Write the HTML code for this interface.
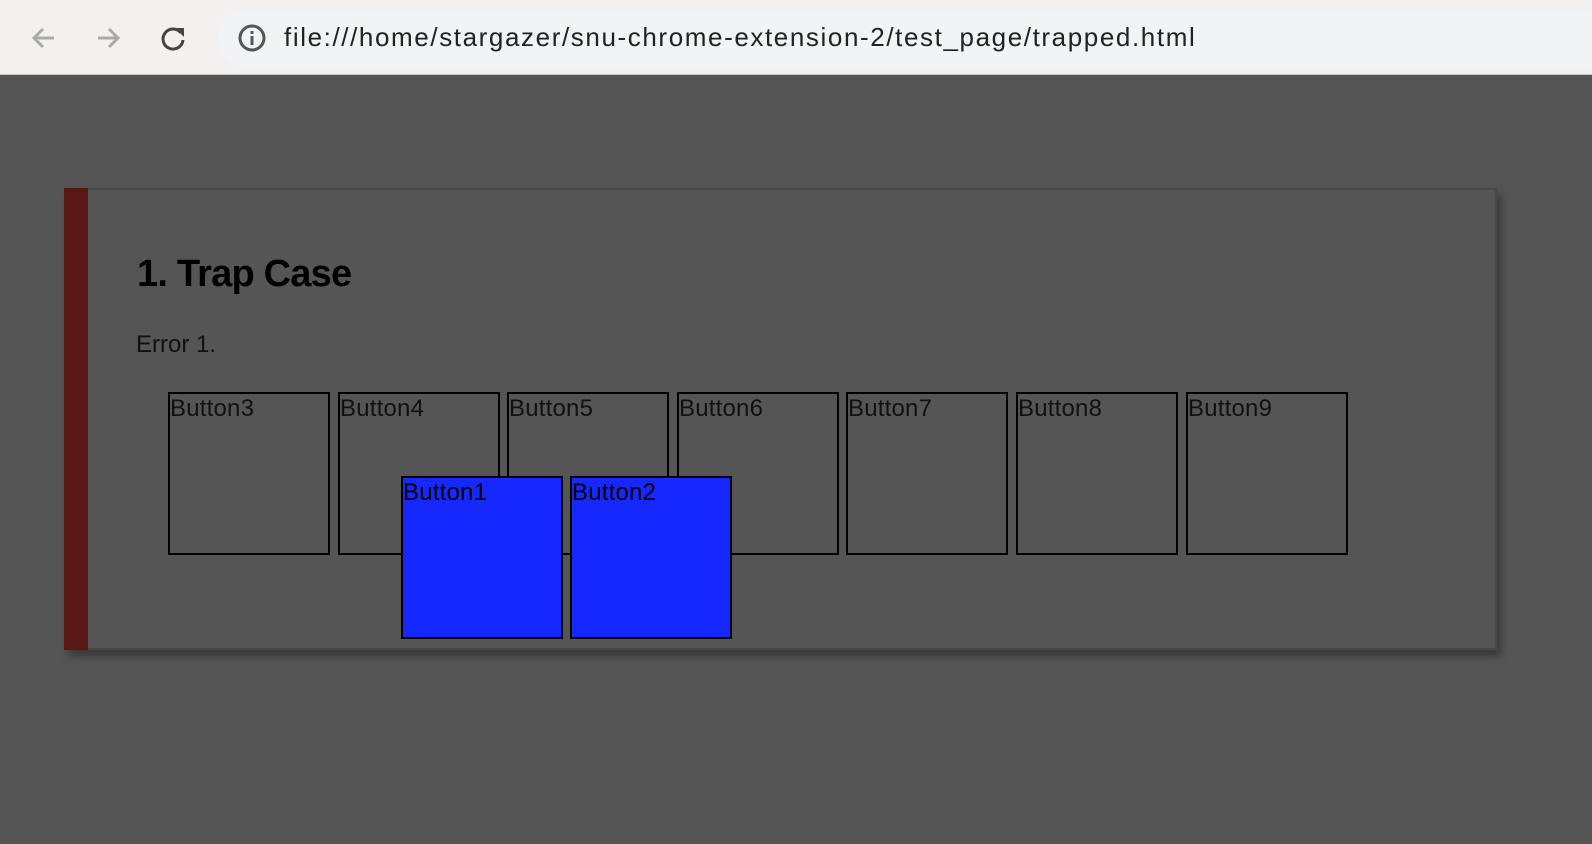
<!DOCTYPE html>
<html><head><meta charset="utf-8"><style>
body{margin:0;width:1592px;height:844px;background:#555;overflow:hidden;font-family:"Liberation Sans",sans-serif;position:relative}
.bar{position:absolute;left:0;top:0;width:1592px;height:75px;background:#f2f1f0;border-bottom:1px solid #c8c8c8;box-sizing:border-box}
.pill{position:absolute;left:218px;top:10px;width:1400px;height:56px;border-radius:28px;background:#f1f3f4}
.url{position:absolute;left:284px;top:22px;font-size:26px;letter-spacing:1.6px;color:#222;white-space:nowrap}
.card{position:absolute;left:64px;top:188px;width:1433px;height:462px;box-sizing:border-box;border:2px solid #484848;background:#555;box-shadow:4px 6px 8px rgba(0,0,0,.35)}
.red{position:absolute;left:64px;top:188px;width:24px;height:462px;background:#561715}
h1{position:absolute;left:137px;top:253px;margin:0;font-size:38px;letter-spacing:-0.8px;font-weight:bold;color:#000}
.err{position:absolute;left:136px;top:331px;font-size:24px;color:#111}
.b{position:absolute;width:162px;height:163px;box-sizing:border-box;border:2px solid #000;font-size:24px;color:#111;line-height:26px;padding-left:0;padding-top:2px;letter-spacing:0.2px}
.blue{background:#1428ff;color:#000}
</style></head><body>
<div class="bar">
<svg style="position:absolute;left:28px;top:22px" width="32" height="32" viewBox="0 0 32 32"><path d="M26 16H6M15 7l-9 9 9 9" stroke="#aaa" stroke-width="3" fill="none"/></svg>
<svg style="position:absolute;left:92px;top:22px" width="32" height="32" viewBox="0 0 32 32"><path d="M6 16h20M17 7l9 9-9 9" stroke="#aaa" stroke-width="3" fill="none"/></svg>
<svg style="position:absolute;left:157px;top:22px" width="32" height="32" viewBox="0 0 32 32"><path d="M24 11A10 10 0 1 0 26 18" stroke="#444" stroke-width="3" fill="none"/><path d="M18 6h9v9z" fill="#444"/></svg>
<div class="pill"></div>
<svg style="position:absolute;left:238px;top:24px" width="28" height="28" viewBox="0 0 28 28"><circle cx="14" cy="14" r="12" stroke="#555" stroke-width="3" fill="none"/><rect x="12.5" y="12" width="3" height="9" fill="#555"/><rect x="12.5" y="7" width="3" height="3" fill="#555"/></svg>
<div class="url">file:///home/stargazer/snu-chrome-extension-2/test_page/trapped.html</div>
</div>
<div class="card"></div>
<div class="red"></div>
<h1>1. Trap Case</h1>
<div class="err">Error 1.</div>
<div class="b" style="left:168px;top:392px">Button3</div>
<div class="b" style="left:338px;top:392px">Button4</div>
<div class="b" style="left:507px;top:392px">Button5</div>
<div class="b" style="left:677px;top:392px">Button6</div>
<div class="b" style="left:846px;top:392px">Button7</div>
<div class="b" style="left:1016px;top:392px">Button8</div>
<div class="b" style="left:1186px;top:392px">Button9</div>
<div class="b blue" style="left:401px;top:476px">Button1</div>
<div class="b blue" style="left:570px;top:476px">Button2</div>
</body></html>
